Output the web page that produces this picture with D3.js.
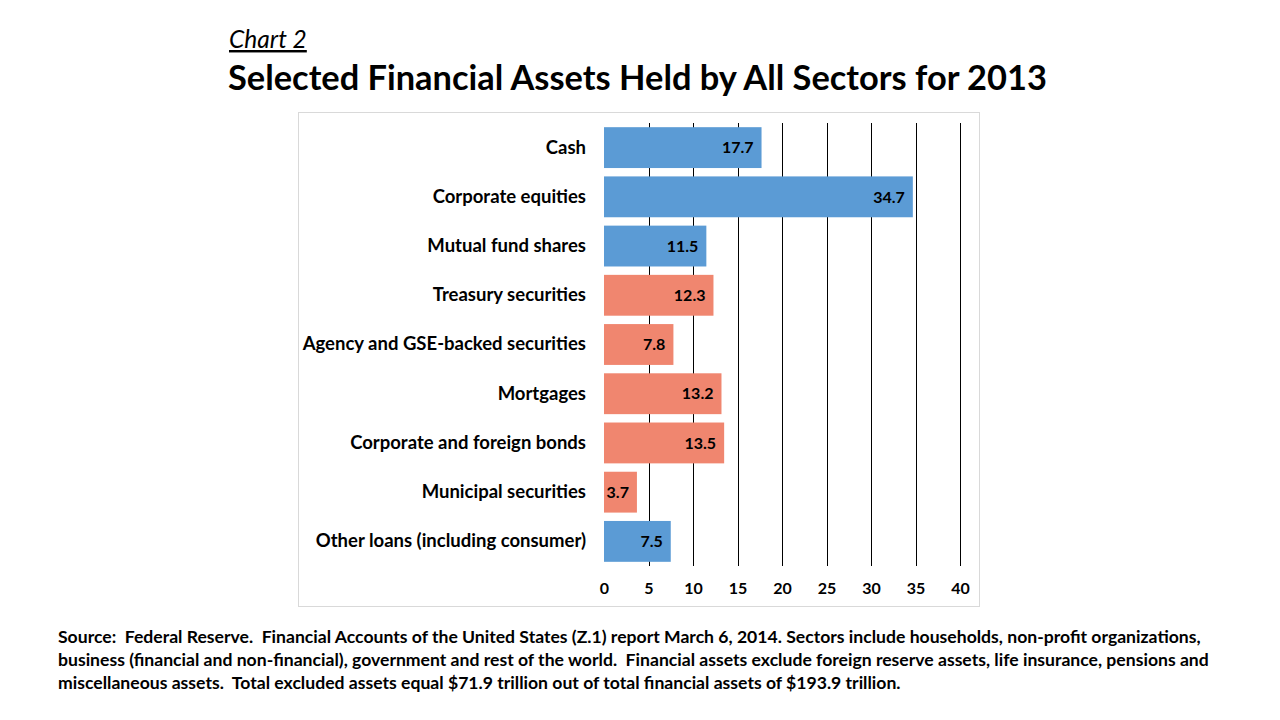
<!DOCTYPE html>
<html>
<head>
<meta charset="utf-8">
<script src="https://cdn.jsdelivr.net/npm/d3@7"></script>
<style>
  body { margin: 0; background: #fff; }
  svg { display: block; font-family: Lato, "Open Sans", sans-serif; }
</style>
</head>
<body>
<div id="app"></div>
<script>
const categories = [
  "Cash",
  "Corporate equities",
  "Mutual fund shares",
  "Treasury securities",
  "Agency and GSE-backed securities",
  "Mortgages",
  "Corporate and foreign bonds",
  "Municipal securities",
  "Other loans (including consumer)"
]
const values = [17.7, 34.7, 11.5, 12.3, 7.8, 13.2, 13.5, 3.7, 7.5]
const groups = ["blue", "blue", "blue", "red", "red", "red", "red", "red", "blue"]
const xTicks = [0, 5, 10, 15, 20, 25, 30, 35, 40]
const sourceLines = [
  "Source:  Federal Reserve.  Financial Accounts of the United States (Z.1) report March 6, 2014. Sectors include households, non-profit organizations,",
  "business (financial and non-financial), government and rest of the world.  Financial assets exclude foreign reserve assets, life insurance, pensions and",
  "miscellaneous assets.  Total excluded assets equal $71.9 trillion out of total financial assets of $193.9 trillion."
]

const colors = { blue: "#5B9BD5", red: "#F0866F" }

const width = 1280
const height = 720
const plot = { left: 604, right: 960, top: 123, bottom: 566 }

const svg = d3.select("#app").append("svg")
    .attr("width", width)
    .attr("height", height)

// titles
svg.append("text")
    .attr("x", 229)
    .attr("y", 48)
    .style("font-size", "24.5px")
    .style("font-style", "italic")
    .style("text-decoration", "underline")
    .text("Chart 2")

svg.append("text")
    .attr("x", 228)
    .attr("y", 90)
    .style("font-size", "34.4px")
    .style("font-weight", "700")
    .text("Selected Financial Assets Held by All Sectors for 2013")

// chart frame
svg.append("rect")
    .attr("x", 298.5)
    .attr("y", 112.5)
    .attr("width", 681)
    .attr("height", 494)
    .attr("fill", "none")
    .attr("stroke", "#d9d9d9")

const xScale = d3.scaleLinear()
  .domain([0, 40])
  .range([plot.left, plot.right])

const yScale = d3.scaleBand()
  .domain(categories)
  .range([plot.top, plot.bottom])
  .paddingInner(0.17)
  .paddingOuter(0.085)

// gridlines
svg.append("g")
  .selectAll("line")
  .data(xTicks.filter(d => d > 0))
  .join("line")
    .attr("x1", d => Math.round(xScale(d)) + 0.5)
    .attr("x2", d => Math.round(xScale(d)) + 0.5)
    .attr("y1", plot.top)
    .attr("y2", plot.bottom)
    .attr("stroke", "#000")
    .attr("stroke-width", 1)

// bars
const bars = svg.append("g")
  .selectAll("g")
  .data(categories.map((c, i) => ({ c, v: values[i], g: groups[i] })))
  .join("g")

bars.append("rect")
    .attr("x", xScale(0))
    .attr("y", d => yScale(d.c))
    .attr("width", d => xScale(d.v) - xScale(0))
    .attr("height", yScale.bandwidth())
    .attr("fill", d => colors[d.g])

bars.append("text")
    .attr("x", d => xScale(d.v) - 8)
    .attr("y", d => yScale(d.c) + yScale.bandwidth() / 2)
    .attr("dy", "0.36em")
    .attr("text-anchor", "end")
    .style("font-size", "16px")
    .style("font-weight", "700")
    .text(d => d.v.toFixed(1))

// category labels
const yAxis = d3.axisLeft(yScale).tickSize(0).tickPadding(18)
svg.append("g")
    .attr("transform", `translate(${plot.left},0)`)
    .call(yAxis)
    .call(g => g.select(".domain").remove())
    .call(g => g.selectAll("text")
      .attr("fill", "#000")
      .style("font-family", "Lato, sans-serif")
      .style("font-size", "18.5px")
      .style("font-weight", "700"))

// x axis labels
const xAxis = d3.axisBottom(xScale).tickValues(xTicks).tickSize(0).tickPadding(17)
svg.append("g")
    .attr("transform", `translate(0,${plot.bottom})`)
    .call(xAxis)
    .call(g => g.select(".domain").remove())
    .call(g => g.selectAll("text")
      .attr("fill", "#000")
      .style("font-family", "Lato, sans-serif")
      .style("font-size", "16px")
      .style("font-weight", "700"))

// source note
svg.append("g")
  .selectAll("text")
  .data(sourceLines)
  .join("text")
    .attr("x", 58)
    .attr("y", (d, i) => 643 + i * 23)
    .style("font-size", "17.6px")
    .style("font-weight", "700")
    .style("white-space", "pre")
    .text(d => d)
</script>
</body>
</html>
